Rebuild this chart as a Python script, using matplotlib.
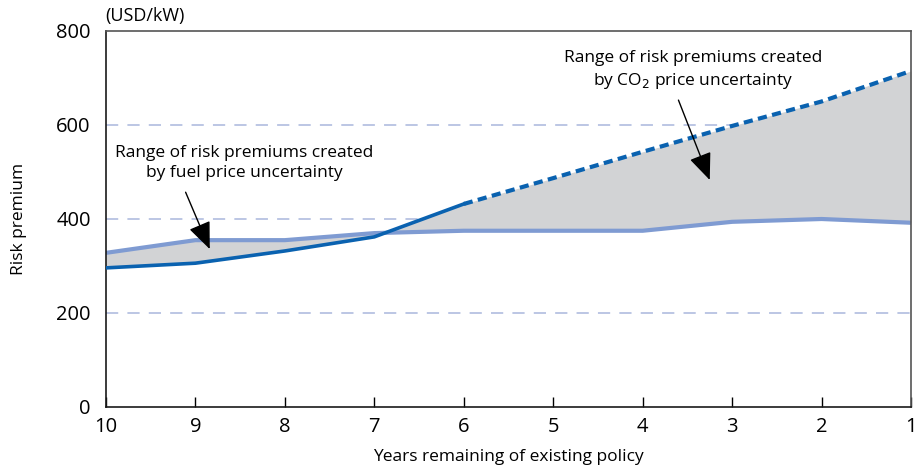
import numpy as np
import matplotlib
matplotlib.use("Agg")
from matplotlib import pyplot as plt

plt.rcParams['font.family'] = ['Open Sans', 'DejaVu Sans']

years = [10, 9, 8, 7, 6, 5, 4, 3, 2, 1]
# dark blue line, solid up to 6 years, dashed after
dark = [296, 306, 332, 362, 432, 487, 543, 598, 650, 715]
# light blue line
light = [328, 355, 355, 370, 375, 375, 375, 394, 400, 392]
yticks = [0, 200, 400, 600, 800]

dark_blue = "#0a62b0"
light_blue = "#7f9bd2"
fill_grey = "#d2d3d5"
grid_col = "#a9b7dc"

fig = plt.figure(figsize=(9.15, 4.74), dpi=100)
ax = fig.add_axes([106/915, 1-407/474, (911-106)/915, (407-31)/474])

for y in [200, 400, 600]:
    ax.axhline(y, color=grid_col, lw=1.1, dashes=(8, 6), zorder=0)

ax.fill_between(years, dark, light, color=fill_grey, lw=0, zorder=1)
ax.plot(years, light, color=light_blue, lw=3, solid_capstyle='butt', zorder=2)
ax.plot(years[:5], dark[:5], color=dark_blue, lw=2.6, zorder=3)
ax.plot(years[4:], dark[4:], color=dark_blue, lw=3, dashes=(2.2, 1.3), zorder=3)

ax.set_xlim(10, 1)
ax.set_ylim(0, 800)
ax.set_xticks(years)
ax.set_yticks(yticks)
ax.tick_params(axis='x', direction='in', length=7, width=1, labelsize=14.5, pad=7)
ax.tick_params(axis='y', length=0, labelsize=14.5, pad=11)
for s in ['left', 'bottom']:
    ax.spines[s].set_linewidth(1.2)
    ax.spines[s].set_color("#1a1a1a")
for s in ['top', 'right']:
    ax.spines[s].set_linewidth(1.2)
    ax.spines[s].set_color("#555555")

ax.set_xlabel("Years remaining of existing policy", fontsize=12.5, labelpad=9)
ax.set_ylabel("Risk premium", fontsize=12.5, labelpad=21)
fig.text(105/915, 1-16/474, "(USD/kW)", fontsize=13, va='center', ha='left')

arrow = dict(arrowstyle='-|>,head_length=1.2,head_width=0.5',
             color='black', lw=1, shrinkA=0, shrinkB=0, mutation_scale=14)

ax.text(8.45, 519, "Range of risk premiums created\nby fuel price uncertainty",
        ha='center', va='center', fontsize=12.5, linespacing=1.35)
ax.annotate("", xy=(8.84, 336), xytext=(9.11, 457), arrowprops=arrow)

ax.text(3.44, 715, "Range of risk premiums created\nby CO$_2$ price uncertainty",
        ha='center', va='center', fontsize=12.5, linespacing=1.35)
ax.annotate("", xy=(3.25, 483), xytext=(3.6, 653), arrowprops=arrow)

fig.savefig("out.png", dpi=100)
